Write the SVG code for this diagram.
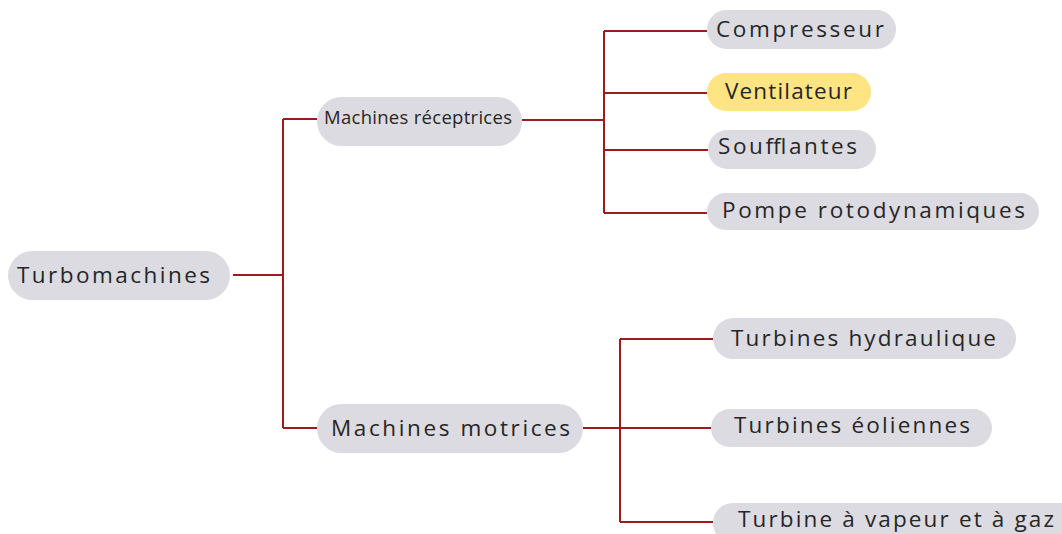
<svg xmlns="http://www.w3.org/2000/svg" width="1062" height="534" viewBox="0 0 1062 534">
<style>
.pill{fill:#DCDBE1}
.hl{fill:#FFE484}
.t{font-family:"Open Sans","Noto Sans","Liberation Sans",sans-serif;font-size:22.5px;fill:#262626}
.s{font-size:18.5px}
.c{fill:none;stroke:#9B1C1C;stroke-width:2}
</style>
<rect width="1062" height="534" fill="#FFFFFF"/>
<g id="connectors">
<path class="c" d="M233 275H283M283 119V428M283 119H317M283 428H317"/>
<path class="c" d="M522 120H604M604 31V213M604 31H707M604 93H707M604 150H708M604 213H707"/>
<path class="c" d="M583 428H620M620 339V522M620 339H713M620 428H711M620 522H713"/>
</g>
<g id="n-turbomachines"><rect class="pill" x="8" y="251" width="222" height="49" rx="24.5"/><text class="t" x="17" y="283" font-size="23.5" textLength="193" lengthAdjust="spacing">Turbomachines</text></g>
<g id="n-receptrices"><rect class="pill" x="317" y="97" width="205" height="49" rx="24.5"/><text class="t s" x="324" y="124" textLength="188" lengthAdjust="spacing">Machines réceptrices</text></g>
<g id="n-motrices"><rect class="pill" x="317" y="404" width="266" height="49" rx="24.5"/><text class="t" x="331" y="436" font-size="23.5" textLength="239" lengthAdjust="spacing">Machines motrices</text></g>
<g id="n-compresseur"><rect class="pill" x="707" y="10" width="189" height="39" rx="19.5"/><text class="t" x="716" y="37" textLength="168" lengthAdjust="spacing">Compresseur</text></g>
<g id="n-ventilateur"><rect class="hl" x="707" y="73" width="164" height="38" rx="19"/><text class="t" x="725" y="99" fill="#1a1a1a" textLength="127" lengthAdjust="spacing">Ventilateur</text></g>
<g id="n-soufflantes"><rect class="pill" x="708" y="130" width="168" height="39" rx="19.5"/><text class="t" x="718" y="154" textLength="139" lengthAdjust="spacing">Soufflantes</text></g>
<g id="n-pompe"><rect class="pill" x="707" y="193" width="332" height="37" rx="18.5"/><text class="t" x="722" y="218" textLength="303" lengthAdjust="spacing">Pompe rotodynamiques</text></g>
<g id="n-hydraulique"><rect class="pill" x="713" y="318" width="303" height="41" rx="20.5"/><text class="t" x="731" y="346" textLength="265" lengthAdjust="spacing">Turbines hydraulique</text></g>
<g id="n-eoliennes"><rect class="pill" x="711" y="409" width="281" height="38" rx="19"/><text class="t" x="734" y="433" textLength="236" lengthAdjust="spacing">Turbines éoliennes</text></g>
<g id="n-vapeur"><rect class="pill" x="713" y="503" width="370" height="40" rx="20"/><text class="t" x="738" y="527" textLength="316" lengthAdjust="spacing">Turbine à vapeur et à gaz</text></g>
</svg>
